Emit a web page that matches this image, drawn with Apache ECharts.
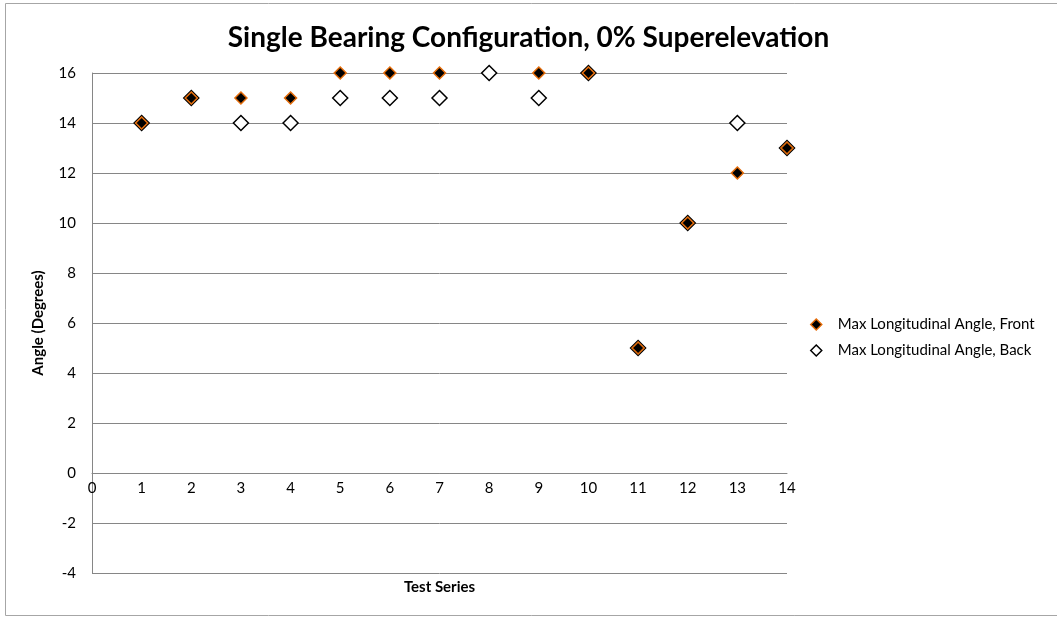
<!DOCTYPE html>
<html>
<head>
<meta charset="utf-8">
<script src="https://cdn.jsdelivr.net/npm/echarts@6/dist/echarts.min.js"></script>
<style>
html,body{margin:0;padding:0;background:#fff;}
#chart{width:1057px;height:617px;}
</style>
</head>
<body>
<div id="chart"></div>
<script>
var testSeries = [1,2,3,4,5,6,7,8,9,10,11,12,13,14];
var frontAngle = [14,15,15,15,16,16,16,null,16,16,5,10,12,13];
var backAngle  = [14,15,14,14,15,15,15,16,15,16,5,10,14,13];
var seriesNames = ['Max Longitudinal Angle, Front','Max Longitudinal Angle, Back'];
var xTicks = {min:0, max:14, interval:1};
var yTicks = {min:-4, max:16, interval:2};

function pairs(xs, ys){
  var out = [];
  for (var i=0;i<xs.length;i++){ if (ys[i] !== null) out.push([xs[i], ys[i]]); }
  return out;
}

var FONT = 'Lato, "Open Sans", sans-serif';
var chart = echarts.init(document.getElementById('chart'), null, {renderer:'canvas'});
chart.setOption({
  animation:false,
  backgroundColor:'#fff',
  textStyle:{fontFamily:FONT},
  title:{
    text:'Single Bearing Configuration, 0% Superelevation',
    left:'center', top:19,
    textStyle:{fontFamily:FONT, fontSize:28, fontWeight:'bold', color:'#000'}
  },
  graphic:[{
    type:'polyline', silent:true, z:-1,
    shape:{points:[[1200,3.5],[5.5,3.5],[5.5,615.5],[1200,615.5]]},
    style:{fill:null, stroke:'#A6A6A6', lineWidth:1}
  }],
  grid:{left:92, right:270, top:73, bottom:44, containLabel:false, outerBoundsMode:'none'},
  legend:{
    orient:'vertical', left:805, top:312, itemGap:11,
    itemWidth:11, itemHeight:11,
    data:[
      {name:seriesNames[0], icon:'diamond', itemStyle:{color:'#000', borderColor:'#E46C0A', borderWidth:1.5}},
      {name:seriesNames[1], icon:'diamond', itemStyle:{color:'#fff', borderColor:'#000', borderWidth:1.5}}
    ],
    textStyle:{fontFamily:FONT, fontSize:15, color:'#000', padding:[0,0,0,11]}
  },
  xAxis:{
    type:'value', min:xTicks.min, max:xTicks.max, interval:xTicks.interval,
    position:'bottom', offset:-100,
    name:'Test Series', nameLocation:'middle', nameGap:107,
    nameTextStyle:{fontFamily:FONT, fontSize:15, fontWeight:'bold', color:'#000'},
    axisLine:{onZero:false, lineStyle:{color:'#868686', width:1}},
    axisTick:{show:false},
    axisLabel:{margin:8, fontFamily:FONT, fontSize:15, color:'#000'},
    splitLine:{show:false}
  },
  yAxis:{
    type:'value', min:yTicks.min, max:yTicks.max, interval:yTicks.interval,
    name:'Angle (Degrees)', nameLocation:'middle', nameGap:46,
    nameTextStyle:{fontFamily:FONT, fontSize:15, fontWeight:'bold', color:'#000'},
    axisLine:{show:true, onZero:false, lineStyle:{color:'#868686', width:1}},
    axisTick:{show:false},
    axisLabel:{margin:16, fontFamily:FONT, fontSize:15, color:'#000'},
    splitLine:{show:true, lineStyle:{color:'#868686', width:1}}
  },
  series:[
    {
      name:seriesNames[1], type:'scatter', data:pairs(testSeries, backAngle),
      symbol:'diamond', symbolSize:15, z:2,
      itemStyle:{color:'#fff', borderColor:'#000', borderWidth:1.5, opacity:1}
    },
    {
      name:seriesNames[0], type:'scatter', data:pairs(testSeries, frontAngle),
      symbol:'diamond', symbolSize:12, z:3,
      itemStyle:{color:'#000', borderColor:'#E46C0A', borderWidth:1.5, opacity:1}
    }
  ]
});
</script>
</body>
</html>
